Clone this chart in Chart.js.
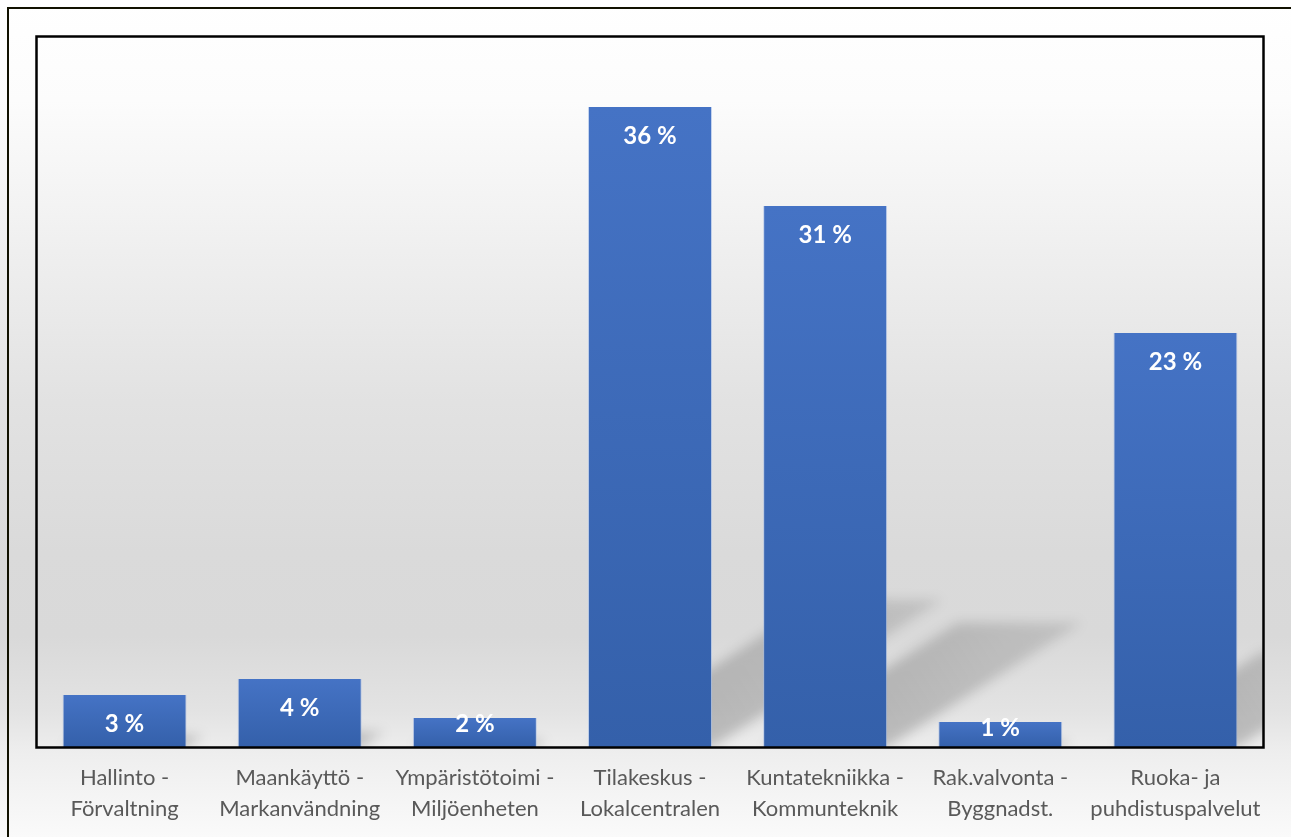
<!DOCTYPE html>
<html>
<head>
<meta charset="utf-8">
<script src="https://cdn.jsdelivr.net/npm/chart.js@4/dist/chart.umd.min.js"></script>
<style>
  html, body { margin: 0; padding: 0; background: #ffffff; }
  #wrap { width: 1291px; height: 837px; position: relative; }
</style>
</head>
<body>
<div id="wrap"><canvas id="c"></canvas></div>
<script>
// ---- data ----
const categories = [
  ["Hallinto -", "Förvaltning"],
  ["Maankäyttö -", "Markanvändning"],
  ["Ympäristötoimi -", "Miljöenheten"],
  ["Tilakeskus -", "Lokalcentralen"],
  ["Kuntatekniikka -", "Kommunteknik"],
  ["Rak.valvonta -", "Byggnadst."],
  ["Ruoka- ja", "puhdistuspalvelut"]
];
const shares = [2.94, 3.84, 1.64, 36.15, 30.55, 1.41, 23.38];
const yMax = 40.1;

// ---- plugins ----
const bgPlugin = {
  id: 'bg',
  beforeDraw(chart) {
    const { ctx, width, height } = chart;
    const g = ctx.createLinearGradient(0, 0, 0, height);
    g.addColorStop(0.00, '#ffffff');
    g.addColorStop(0.12, '#fcfcfc');
    g.addColorStop(0.30, '#efefef');
    g.addColorStop(0.48, '#e2e2e2');
    g.addColorStop(0.66, '#dadada');
    g.addColorStop(0.76, '#d9d9d9');
    g.addColorStop(0.85, '#e3e3e3');
    g.addColorStop(0.90, '#eeeeee');
    g.addColorStop(1.00, '#fafafa');
    ctx.save();
    ctx.fillStyle = g;
    ctx.fillRect(0, 0, width, height);
    ctx.restore();
  }
};

const shadowPlugin = {
  id: 'barShadow',
  beforeDatasetsDraw(chart) {
    const { ctx, chartArea } = chart;
    const meta = chart.getDatasetMeta(0);
    ctx.save();
    ctx.beginPath();
    ctx.rect(chartArea.left, chartArea.top, chartArea.right - chartArea.left, chartArea.bottom - chartArea.top);
    ctx.clip();
    ctx.filter = 'blur(6px)';
    meta.data.forEach(bar => {
      const x0 = bar.x - bar.width / 2;
      const x1 = bar.x + bar.width / 2;
      const base = bar.base;
      const h = base - bar.y;
      if (!isFinite(h) || h <= 0) return;
      const dx = 0.36 * h, dy = 0.23 * h;
      const g = ctx.createLinearGradient(x1, base, x1 + dx, base - dy);
      g.addColorStop(0, 'rgba(0,0,0,0.20)');
      g.addColorStop(1, 'rgba(0,0,0,0.10)');
      ctx.fillStyle = g;
      ctx.beginPath();
      ctx.moveTo(x0, base);
      ctx.lineTo(x1, base);
      ctx.lineTo(x1 + dx, base - dy);
      ctx.lineTo(x0 + dx, base - dy);
      ctx.closePath();
      ctx.fill();
    });
    ctx.restore();
  }
};

const labelPlugin = {
  id: 'valueLabels',
  afterDatasetsDraw(chart) {
    const { ctx } = chart;
    const meta = chart.getDatasetMeta(0);
    ctx.save();
    ctx.fillStyle = '#ffffff';
    ctx.font = 'bold 24px Lato';
    ctx.textAlign = 'center';
    ctx.textBaseline = 'middle';
    meta.data.forEach((bar, i) => {
      const h = bar.base - bar.y;
      const y = h > 40 ? bar.y + 29 : bar.y + 6;
      ctx.fillText(Math.round(shares[i]) + ' %', bar.x, y);
    });
    ctx.restore();
  }
};

const framePlugin = {
  id: 'frame',
  afterDraw(chart) {
    const { ctx, chartArea, width, height } = chart;
    ctx.save();
    ctx.strokeStyle = '#000000';
    ctx.lineWidth = 2.5;
    ctx.strokeRect(chartArea.left - 0.5, chartArea.top - 0.5,
      chartArea.right - chartArea.left + 1, chartArea.bottom - chartArea.top + 1);
    ctx.lineWidth = 2;
    ctx.strokeStyle = '#111100';
    ctx.beginPath();
    ctx.moveTo(8, height + 5);
    ctx.lineTo(8, 8);
    ctx.lineTo(width + 2, 8);
    ctx.stroke();
    ctx.restore();
  }
};

new Chart(document.getElementById('c'), {
  type: 'bar',
  data: {
    labels: categories,
    datasets: [{
      data: shares,
      backgroundColor(context) {
        const chart = context.chart;
        const yS = chart.scales.y;
        if (!yS || context.raw === undefined || !chart.chartArea) return '#3d69b8';
        const top = yS.getPixelForValue(context.raw);
        const bottom = yS.getPixelForValue(0);
        if (!isFinite(top) || !isFinite(bottom) || top === bottom) return '#3d69b8';
        const g = chart.ctx.createLinearGradient(0, top, 0, bottom);
        g.addColorStop(0, '#4573c5');
        g.addColorStop(1, '#3460aa');
        return g;
      },
      borderColor: 'rgba(160,185,230,0.6)',
      borderWidth: { left: 1, right: 1, top: 0, bottom: 0 },
      barPercentage: 0.708,
      categoryPercentage: 1.0
    }]
  },
  options: {
    responsive: true,
    maintainAspectRatio: false,
    animation: false,
    layout: { padding: { left: 37, right: 28, top: 37, bottom: 0 } },
    plugins: {
      legend: { display: false },
      tooltip: { enabled: false },
      title: { display: false }
    },
    scales: {
      x: {
        grid: { display: false, drawTicks: false },
        border: { display: false },
        ticks: {
          color: '#595959',
          padding: 15,
          maxRotation: 0,
          autoSkip: false,
          font: { family: 'Lato', size: 22, lineHeight: '31px' }
        },
        afterFit(scale) { scale.height = 90; }
      },
      y: {
        display: false,
        min: 0,
        max: yMax
      }
    }
  },
  plugins: [bgPlugin, shadowPlugin, labelPlugin, framePlugin]
});
</script>
</body>
</html>
